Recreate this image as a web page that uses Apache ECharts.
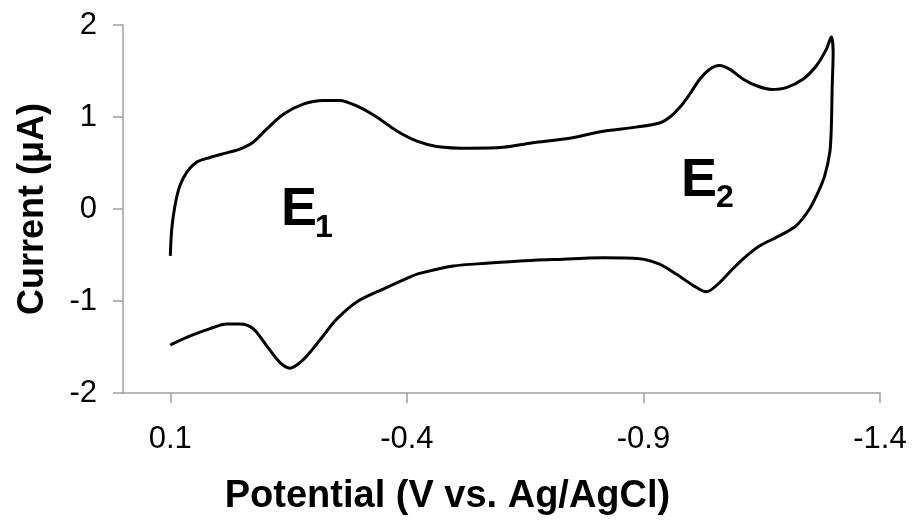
<!DOCTYPE html>
<html>
<head>
<meta charset="utf-8">
<script src="https://cdn.jsdelivr.net/npm/echarts@6/dist/echarts.min.js"></script>
<style>
html,body{margin:0;padding:0;background:#fff;}
#chart{width:914px;height:521px;}
</style>
</head>
<body>
<div id="chart"></div>
<script>
// Potential (V vs. Ag/AgCl), in scan order
var potential = [
  0.100, 0.097, 0.090, 0.080, 0.065, 0.044, 0.016, -0.019, -0.047, -0.075,
  -0.104, -0.139, -0.181, -0.223, -0.258, -0.294, -0.336, -0.378, -0.420, -0.463,
  -0.533, -0.603, -0.674, -0.744, -0.815, -0.885, -0.934, -0.956, -0.977, -0.998,
  -1.019, -1.040, -1.061, -1.082, -1.111, -1.139, -1.171, -1.202, -1.237, -1.266,
  -1.287, -1.297, -1.301, -1.299, -1.297, -1.294, -1.283, -1.269, -1.251, -1.223,
  -1.188, -1.146, -1.118, -1.089, -1.061, -1.033, -1.005, -0.970, -0.934, -0.892,
  -0.815, -0.709, -0.639, -0.568, -0.498, -0.427, -0.406, -0.350, -0.294, -0.251,
  -0.223, -0.195, -0.174, -0.153, -0.132, -0.104, -0.075, -0.047, -0.019, 0.016,
  0.058, 0.097, 0.100
];
// Current (uA), same order
var current = [
  -0.51, -0.22, 0.04, 0.25, 0.40, 0.51, 0.56, 0.61, 0.65, 0.725,
  0.87, 1.03, 1.14, 1.18, 1.18, 1.12, 1.00, 0.85, 0.74, 0.68,
  0.66, 0.67, 0.725, 0.77, 0.845, 0.89, 0.935, 1.00, 1.105, 1.25,
  1.41, 1.52, 1.56, 1.52, 1.41, 1.34, 1.30, 1.32, 1.41, 1.56,
  1.74, 1.87, 1.70, 1.34, 0.87, 0.62, 0.36, 0.18, 0.00, -0.18,
  -0.29, -0.40, -0.51, -0.65, -0.80, -0.90, -0.83, -0.71, -0.60, -0.54,
  -0.53, -0.55, -0.565, -0.59, -0.62, -0.70, -0.74, -0.87, -1.01, -1.20,
  -1.38, -1.56, -1.67, -1.73, -1.67, -1.49, -1.30, -1.25, -1.25, -1.30,
  -1.38, -1.47, -1.48
];
var xTicks = [0.1, -0.4, -0.9, -1.4];
var yTicks = [-2, -1, 0, 1, 2];
var xTitle = 'Potential (V vs. Ag/AgCl)';
var yTitle = 'Current (\u03bcA)';

var FONT = "'Liberation Sans', Arial, sans-serif";
var pts = potential.map(function (v, i) { return [v, current[i]]; });

var chart = echarts.init(document.getElementById('chart'));
chart.setOption({
  animation: false,
  backgroundColor: '#fff',
  grid: { left: 123, right: 34, top: 25, bottom: 128 },
  xAxis: {
    type: 'value', inverse: true, min: -1.4, max: 0.2,
    name: xTitle, nameLocation: 'middle', nameGap: 85,
    nameTextStyle: { fontSize: 38, fontWeight: 'bold', color: '#000', fontFamily: FONT, padding: [0, 108, 0, 0] },
    axisLine: { onZero: false, lineStyle: { color: '#a0a0a0', width: 1.5 } },
    axisTick: { show: true, inside: false, length: 10, customValues: xTicks, lineStyle: { color: '#a0a0a0', width: 1.5 } },
    axisLabel: { customValues: xTicks, margin: 31, fontSize: 31, color: '#000', fontFamily: FONT,
      formatter: function (v) { return v.toFixed(1); } },
    splitLine: { show: false }
  },
  yAxis: {
    type: 'value', min: -2, max: 2, interval: 1,
    name: yTitle, nameLocation: 'middle', nameGap: 72,
    nameTextStyle: { fontSize: 36, fontWeight: 'bold', color: '#000', fontFamily: FONT },
    axisLine: { show: true, onZero: false, lineStyle: { color: '#a0a0a0', width: 1.5 } },
    axisTick: { show: true, inside: false, length: 10, lineStyle: { color: '#a0a0a0', width: 1.5 } },
    axisLabel: { margin: 26, fontSize: 31, color: '#000', fontFamily: FONT,
      formatter: function (v) { return String(v); } },
    splitLine: { show: false }
  },
  series: [{
    type: 'line', data: pts, showSymbol: false, smooth: 0.3,
    lineStyle: { color: '#000', width: 3 }
  }],
  graphic: [
    { type: 'text', x: 281, y: 210, style: { text: 'E', font: 'bold 54px ' + FONT, fill: '#000', textAlign: 'left', textVerticalAlign: 'middle' } },
    { type: 'text', x: 315, y: 228, style: { text: '1', font: 'bold 32px ' + FONT, fill: '#000', textAlign: 'left', textVerticalAlign: 'middle' } },
    { type: 'text', x: 681, y: 181, style: { text: 'E', font: 'bold 54px ' + FONT, fill: '#000', textAlign: 'left', textVerticalAlign: 'middle' } },
    { type: 'text', x: 716, y: 198, style: { text: '2', font: 'bold 32px ' + FONT, fill: '#000', textAlign: 'left', textVerticalAlign: 'middle' } }
  ]
});
</script>
</body>
</html>
